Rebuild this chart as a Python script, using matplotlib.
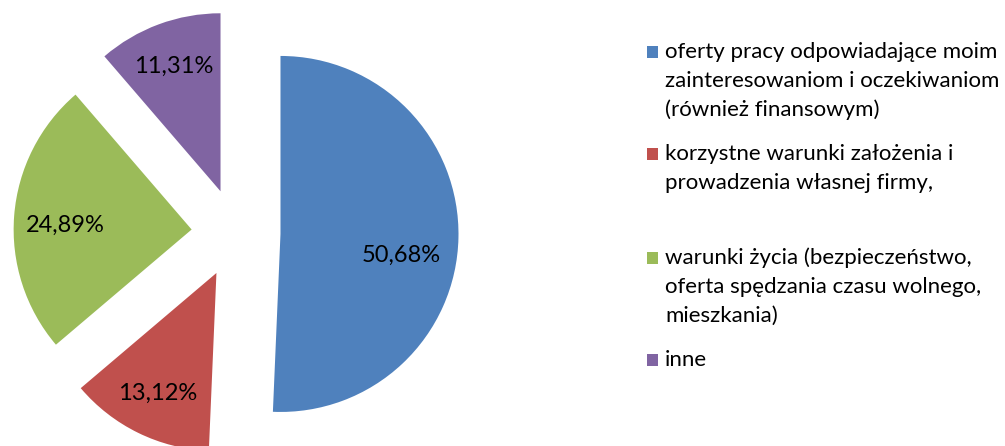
import numpy as np
import matplotlib
matplotlib.use("Agg")
import matplotlib.pyplot as plt
from matplotlib.patches import Rectangle

plt.rcParams['font.family'] = ['Lato', 'DejaVu Sans']

labels = [
    "oferty pracy odpowiadające moim\nzainteresowaniom i oczekiwaniom\n(również finansowym)",
    "korzystne warunki założenia i\nprowadzenia własnej firmy,",
    "warunki życia (bezpieczeństwo,\noferta spędzania czasu wolnego,\nmieszkania)",
    "inne",
]
values = [50.68, 13.12, 24.89, 11.31]
colors = ["#4F81BD", "#C0504D", "#9BBB59", "#8064A2"]
explode = [0.25, 0.25, 0.25, 0.25]

W, H = 1005, 446
R = 178.0          # pie radius in pixels
cx, cy = 236, 233  # pie centre in pixels (from top-left)

fig = plt.figure(figsize=(W / 100, H / 100), dpi=100)
ax = fig.add_axes([0, 0, 1, 1])

wedges, texts, autotexts = ax.pie(
    values,
    colors=colors,
    explode=explode,
    startangle=90,
    counterclock=False,
    autopct=lambda p: f"{p:.2f}".replace(".", ",") + "%",
    pctdistance=0.75,
    textprops=dict(fontsize=17, color="black"),
    wedgeprops=dict(linewidth=0),
)

# Excel "best fit" labels: nudge the two big slices
for idx, dist, deg in [(0, 0.69, -10), (2, 0.71, 178)]:
    w = wedges[idx]
    ang = np.deg2rad(deg)
    autotexts[idx].set_position((w.center[0] + dist * np.cos(ang),
                                 w.center[1] + dist * np.sin(ang)))

ax.set_xlim(-cx / R, (W - cx) / R)
ax.set_ylim(-(H - cy) / R, cy / R)
ax.set_aspect("auto")
ax.axis("off")

# legend (manual, Excel style) - baseline of first line of each entry
baselines = [58, 160, 264, 366]
line_h = 29
for lab, col, base in zip(labels, colors, baselines):
    fig.patches.append(Rectangle((647 / W, 1 - (base - 0.5) / H), 11 / W, 11.5 / H,
                                 transform=fig.transFigure, facecolor=col,
                                 edgecolor="none"))
    for i, line in enumerate(lab.split("\n")):
        fig.text(665 / W, 1 - (base + i * line_h) / H, line, fontsize=16,
                 va="baseline", ha="left")

fig.savefig("out.png", dpi=100)
